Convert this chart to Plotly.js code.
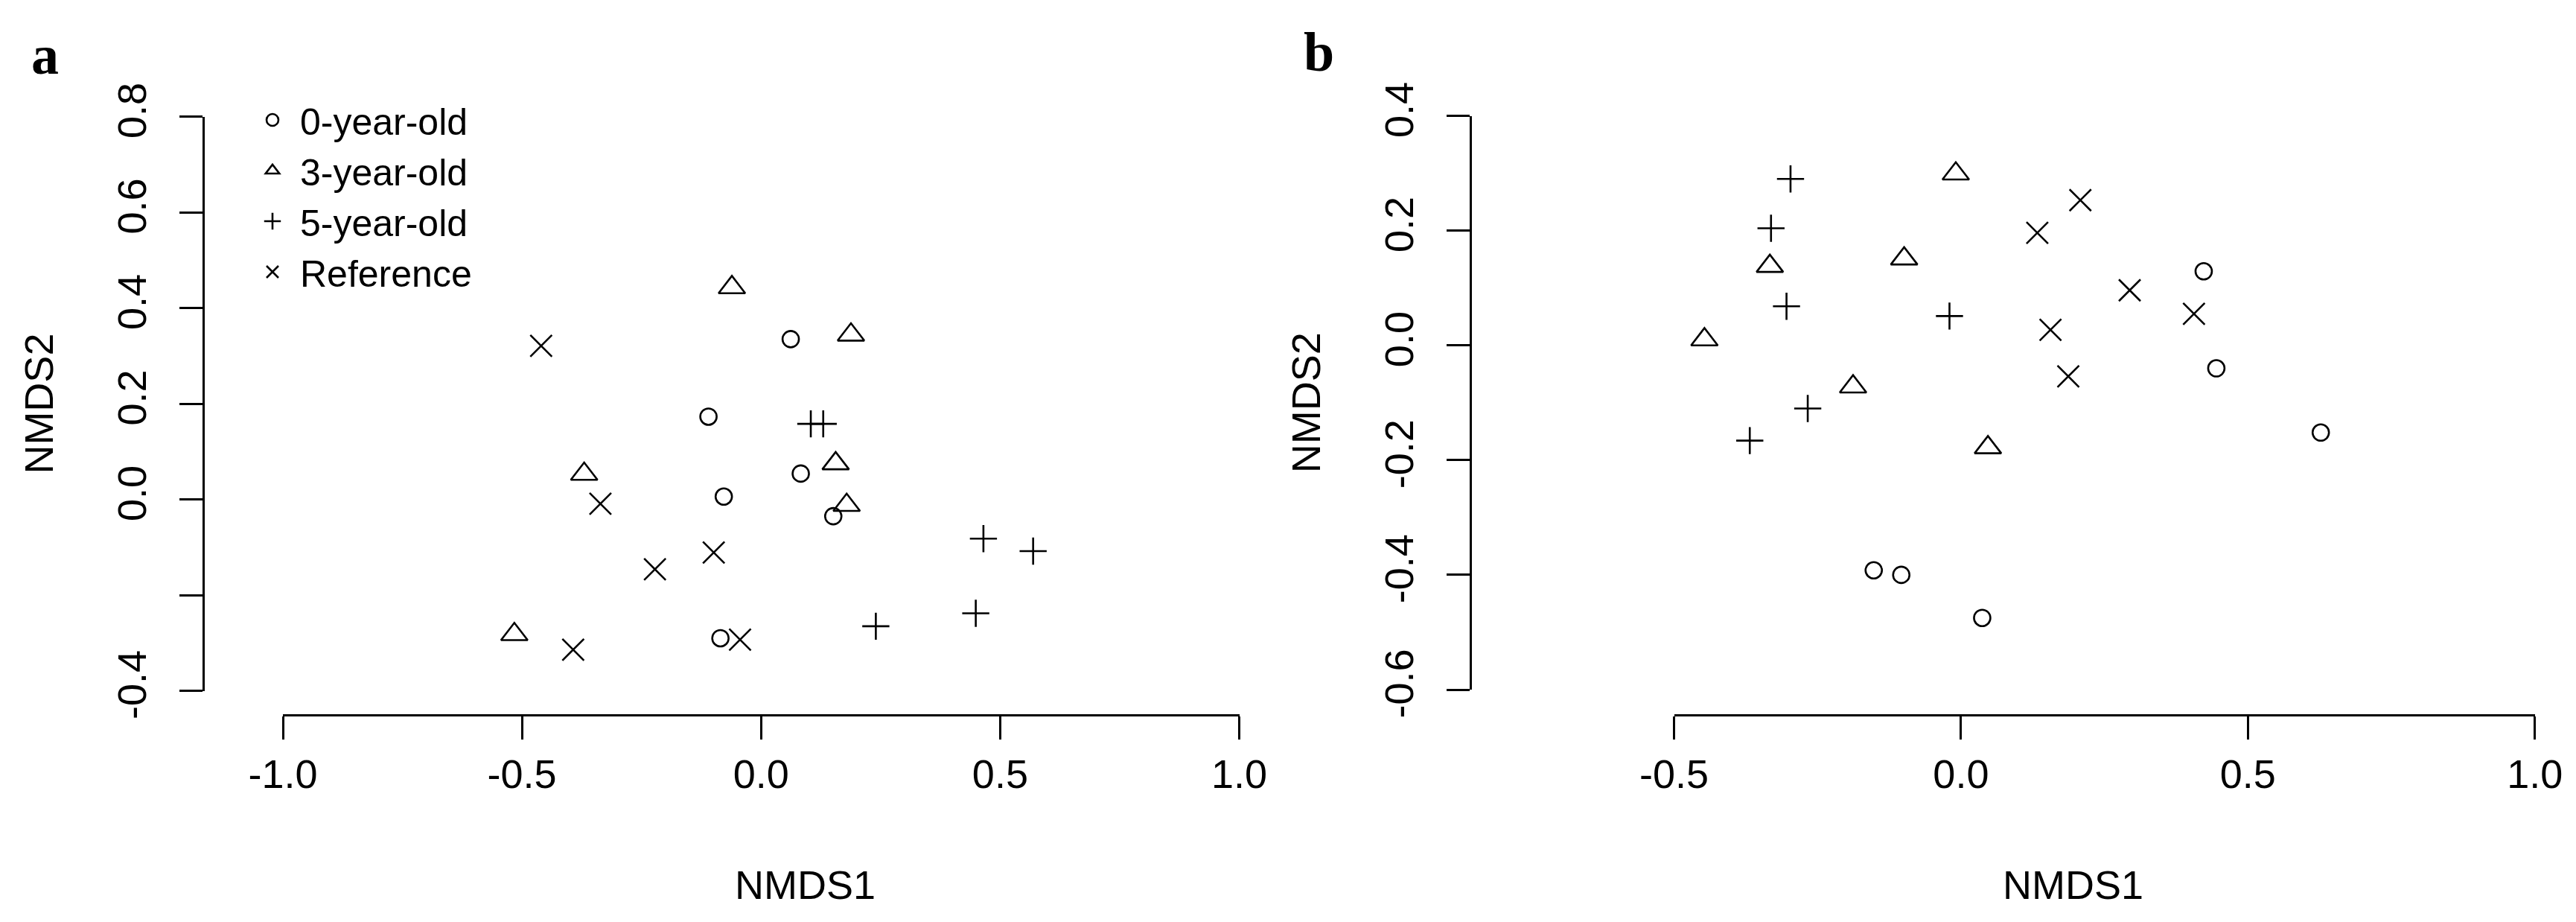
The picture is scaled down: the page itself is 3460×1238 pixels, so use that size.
<!DOCTYPE html>
<html>
<head>
<meta charset="utf-8">
<script src="https://cdn.plot.ly/plotly-3.0.1.min.js"></script>
<style>
html, body { margin: 0; padding: 0; background: #ffffff; }
#chart { width: 3460px; height: 1238px; }
</style>
</head>
<body>
<div id="chart"></div>
<script>
// ---------------- data ----------------
const groupNames = ['0-year-old', '3-year-old', '5-year-old', 'Reference'];

// Panel a (NMDS1, NMDS2)
const a_age0_x = [0.062, -0.110, 0.083, -0.078, 0.151, -0.085];
const a_age0_y = [0.335, 0.173, 0.054, 0.006, -0.035, -0.290];
const a_age3_x = [-0.061, 0.188, 0.156, -0.370, 0.179, -0.516];
const a_age3_y = [0.443, 0.344, 0.075, 0.053, -0.012, -0.282];
const a_age5_x = [0.104, 0.130, 0.465, 0.569, 0.449, 0.240];
const a_age5_y = [0.158, 0.158, -0.082, -0.108, -0.238, -0.265];
const a_ref_x  = [-0.460, -0.336, -0.099, -0.222, -0.393, -0.044];
const a_ref_y  = [0.321, -0.009, -0.111, -0.146, -0.314, -0.293];

// Panel b (NMDS1, NMDS2)
const b_age0_x = [0.423, 0.445, 0.627, -0.152, -0.104, 0.037];
const b_age0_y = [0.129, -0.040, -0.152, -0.392, -0.400, -0.475];
const b_age3_x = [-0.009, -0.099, -0.333, -0.447, -0.188, 0.047];
const b_age3_y = [0.299, 0.151, 0.138, 0.010, -0.072, -0.178];
const b_age5_x = [-0.297, -0.331, -0.304, -0.020, -0.267, -0.368];
const b_age5_y = [0.290, 0.204, 0.068, 0.051, -0.110, -0.166];
const b_ref_x  = [0.208, 0.133, 0.294, 0.406, 0.156, 0.187];
const b_ref_y  = [0.253, 0.196, 0.096, 0.055, 0.027, -0.054];

// tick labels
const a_xTickVals = [-1.0, -0.5, 0.0, 0.5, 1.0];
const a_xTickText = ['-1.0', '-0.5', '0.0', '0.5', '1.0'];
const a_yTickVals = [-0.4, -0.2, 0.0, 0.2, 0.4, 0.6, 0.8];
const a_yTickText = ['-0.4', '', '0.0', '0.2', '0.4', '0.6', '0.8'];
const b_xTickVals = [-0.5, 0.0, 0.5, 1.0];
const b_xTickText = ['-0.5', '0.0', '0.5', '1.0'];
const b_yTickVals = [-0.6, -0.4, -0.2, 0.0, 0.2, 0.4];
const b_yTickText = ['-0.6', '-0.4', '-0.2', '0.0', '0.2', '0.4'];

// ---------------- styles ----------------
const symbols = ['circle-open', 'triangle-up-open', 'cross-thin-open', 'x-thin-open'];
const sizes = [22, 31, 26, 29];

const W = 3460, H = 1238;
const px = v => v / W;        // horizontal pixel -> paper
const py = v => 1 - v / H;    // vertical pixel -> paper

const panelA = [[a_age0_x, a_age0_y], [a_age3_x, a_age3_y], [a_age5_x, a_age5_y], [a_ref_x, a_ref_y]];
const panelB = [[b_age0_x, b_age0_y], [b_age3_x, b_age3_y], [b_age5_x, b_age5_y], [b_ref_x, b_ref_y]];

const traces = [];
[[panelA, 'x', 'y', true], [panelB, 'x2', 'y2', false]].forEach(([panel, xa, ya, showLeg]) => {
  panel.forEach((xy, i) => {
    traces.push({
      type: 'scatter', mode: 'markers',
      x: xy[0], y: xy[1],
      xaxis: xa, yaxis: ya,
      name: groupNames[i], legendgroup: groupNames[i], showlegend: showLeg,
      cliponaxis: false,
      hoverinfo: 'x+y+name',
      marker: { symbol: symbols[i], size: sizes[i], color: '#000000',
                line: { color: '#000000', width: 2.6 } }
    });
  });
});

const FONT = 'Arial, "Liberation Sans", sans-serif';
const axisCommon = {
  showline: true, linecolor: '#000000', linewidth: 2.6,
  ticks: 'outside', tickcolor: '#000000', tickwidth: 2.6, ticklen: 31,
  showgrid: false, zeroline: false, fixedrange: true,
  tickmode: 'array', tickfont: { family: FONT, size: 54, color: '#000000' }
};

const layout = {
  width: W, height: H,
  margin: { l: 0, r: 0, t: 0, b: 0, pad: 0 },
  paper_bgcolor: '#ffffff', plot_bgcolor: 'rgba(0,0,0,0)',
  font: { family: FONT, size: 54, color: '#000000' },
  showlegend: true,
  legend: {
    x: px(329), y: py(122), xanchor: 'left', yanchor: 'top',
    bgcolor: 'rgba(0,0,0,0)', borderwidth: 0,
    font: { family: FONT, size: 50, color: '#000000' },
    itemsizing: 'trace', itemwidth: 64, tracegroupgap: 0
  },
  xaxis: Object.assign({}, axisCommon, {
    domain: [px(380), px(1664.5)], range: [-1, 1],
    anchor: 'free', position: py(960), linewidth: 3.2,
    tickvals: a_xTickVals, ticktext: a_xTickText
  }),
  yaxis: Object.assign({}, axisCommon, {
    domain: [py(927.6), py(156.6)], range: [-0.4, 0.8],
    anchor: 'free', position: px(273), tickangle: -90, ticklabelstandoff: 24,
    tickvals: a_yTickVals, ticktext: a_yTickText,
    title: { text: 'NMDS2', font: { family: FONT, size: 54, color: '#000000' }, standoff: 56 }
  }),
  xaxis2: Object.assign({}, axisCommon, {
    domain: [px(2248.5), px(3404.7)], range: [-0.5, 1.0],
    anchor: 'free', position: py(960), linewidth: 3.2,
    tickvals: b_xTickVals, ticktext: b_xTickText
  }),
  yaxis2: Object.assign({}, axisCommon, {
    domain: [py(926), py(155.5)], range: [-0.6, 0.4],
    anchor: 'free', position: px(1975), tickangle: -90, ticklabelstandoff: 24,
    tickvals: b_yTickVals, ticktext: b_yTickText,
    title: { text: 'NMDS2', font: { family: FONT, size: 54, color: '#000000' }, standoff: 56 }
  }),
  annotations: [
    { text: 'NMDS1', xref: 'paper', yref: 'paper', x: px(1081), y: py(1188),
      xanchor: 'center', yanchor: 'middle', showarrow: false,
      font: { family: FONT, size: 54, color: '#000000' } },
    { text: 'NMDS1', xref: 'paper', yref: 'paper', x: px(2784), y: py(1188),
      xanchor: 'center', yanchor: 'middle', showarrow: false,
      font: { family: FONT, size: 54, color: '#000000' } },
    { text: 'a', xref: 'paper', yref: 'paper', x: px(40), y: py(74),
      xanchor: 'left', yanchor: 'middle', showarrow: false,
      font: { family: '"Liberation Serif", "Times New Roman", serif', size: 74, color: '#000000', weight: 'bold' } },
    { text: 'b', xref: 'paper', yref: 'paper', x: px(1749), y: py(70),
      xanchor: 'left', yanchor: 'middle', showarrow: false,
      font: { family: '"Liberation Serif", "Times New Roman", serif', size: 74, color: '#000000', weight: 'bold' } }
  ]
};

Plotly.newPlot('chart', traces, layout, { displayModeBar: false, responsive: false });
</script>
</body>
</html>
